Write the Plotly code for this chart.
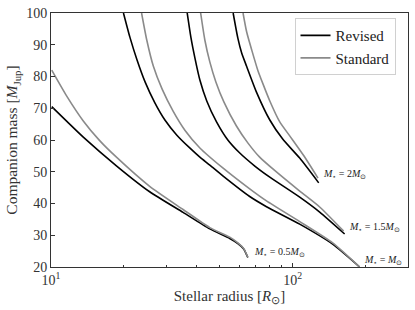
import math
import plotly.graph_objects as go

# ---- data (stellar radius in R_sun, companion mass in M_Jup) ----
r_05_rev = [10.07, 13.6, 18.7, 25.6, 35.2, 45.4, 54.9, 59.3, 62.7, 65.2]
m_05_rev = [70.5, 60.9, 51.8, 43.7, 37.2, 32.0, 29.0, 27.4, 25.7, 23.0]
r_05_std = [10.07, 11.6, 13.6, 15.9, 18.7, 25.6, 35.2, 45.4, 54.9, 59.3, 62.7, 65.2]
m_05_std = [82.0, 73.9, 66.0, 59.8, 54.5, 45.4, 38.1, 32.4, 29.4, 27.6, 25.8, 23.1]

r_1_rev = [19.94, 21.2, 22.7, 24.5, 26.9, 29.6, 33.1, 37.5, 41.3, 45.4, 51.4, 66.4, 77.9, 106.9, 146.3, 189.2]
m_1_rev = [100, 92.4, 85.2, 78.3, 71.7, 66.3, 61.6, 57.5, 54.6, 52.1, 48.7, 42.2, 39.0, 33.5, 27.2, 20.0]
r_1_std = [23.7, 24.9, 26.5, 28.8, 32.0, 35.8, 41.3, 51.4, 66.4, 77.9, 106.9, 146.3, 189.2]
m_1_std = [100, 91.5, 83.3, 76.1, 69.1, 63.1, 57.5, 51.2, 44.6, 40.8, 34.3, 27.6, 20.0]

r_15_rev = [36.6, 37.9, 39.4, 41.3, 44.1, 48.4, 53.9, 60.4, 69.7, 80.4, 106.9, 129.3, 164.0]
m_15_rev = [100, 92.4, 85.8, 78.9, 72.3, 65.7, 60.0, 55.9, 51.8, 48.3, 42.0, 37.3, 30.4]
r_15_std = [41.6, 43.3, 45.4, 48.1, 51.9, 58.5, 65.2, 73.0, 84.2, 106.9, 129.3, 162.4]
m_15_std = [100, 91.5, 84.6, 78.3, 72.0, 64.4, 59.1, 54.6, 50.4, 43.9, 38.9, 31.3]

r_2_rev = [56.7, 59.3, 61.5, 64.4, 70.8, 80.4, 90.9, 106.9, 128.1]
m_2_rev = [100, 92.1, 87.4, 83.3, 75.1, 66.3, 60.3, 54.3, 46.5]
r_2_std = [62.3, 64.5, 67.7, 71.7, 75.4, 80.4, 88.4, 97.2, 111.0, 127.2]
m_2_std = [100, 94.0, 88.3, 82.0, 77.6, 72.3, 65.7, 61.3, 55.1, 48.0]

labels = ["<i>M</i><sub>⋆</sub> = 2<i>M</i><sub>⊙</sub>",
          "<i>M</i><sub>⋆</sub> = 1.5<i>M</i><sub>⊙</sub>",
          "<i>M</i><sub>⋆</sub> = 0.5<i>M</i><sub>⊙</sub>",
          "<i>M</i><sub>⋆</sub> = <i>M</i><sub>⊙</sub>"]
label_r = [131, 167, 68, 194]
label_m = [49.0, 32.6, 24.7, 22.2]

x_ticks = [10, 100]
x_ticktext = ["10<sup>1</sup>", "10<sup>2</sup>"]
x_minor = [20, 30, 40, 50, 60, 70, 80, 90, 200, 300]
y_ticks = [20, 30, 40, 50, 60, 70, 80, 90, 100]

FONT = "Liberation Serif"
BLACK = "#000000"
GRAY = "#8a8a8a"

fig = go.Figure()
pairs = [(r_05_rev, m_05_rev, r_05_std, m_05_std),
         (r_1_rev, m_1_rev, r_1_std, m_1_std),
         (r_15_rev, m_15_rev, r_15_std, m_15_std),
         (r_2_rev, m_2_rev, r_2_std, m_2_std)]
for i, (rr, mr, rs, ms) in enumerate(pairs):
    fig.add_trace(go.Scatter(x=rr, y=mr, mode="lines", name="Revised",
                             line=dict(color=BLACK, width=1.6, shape="spline", smoothing=0.6),
                             showlegend=(i == 0), legendrank=1))
    fig.add_trace(go.Scatter(x=rs, y=ms, mode="lines", name="Standard",
                             line=dict(color=GRAY, width=1.6, shape="spline", smoothing=0.6),
                             showlegend=(i == 0), legendrank=2))

for t, xr, ym in zip(labels, label_r, label_m):
    fig.add_annotation(x=math.log10(xr), y=ym, text=t, showarrow=False,
                       xanchor="left", yanchor="middle",
                       font=dict(family=FONT, size=10, color="#222"))

fig.update_layout(
    width=415, height=310,
    margin=dict(l=51, r=7, t=13, b=43, autoexpand=False),
    paper_bgcolor="white", plot_bgcolor="white",
    font=dict(family=FONT, size=14, color="#333"),
    showlegend=True,
    legend=dict(x=0.965, y=0.98, xanchor="right", yanchor="top",
                bordercolor="#d0d0d0", borderwidth=1, bgcolor="white",
                font=dict(family=FONT, size=15, color="#222"),
                itemwidth=30, tracegroupgap=0),
)
fig.update_xaxes(type="log", range=[1, 2.477], automargin=False,
                 tickvals=x_ticks, ticktext=x_ticktext,
                 ticks="inside", ticklen=4, tickcolor="#333",
                 minor=dict(tickvals=x_minor, ticks="inside", ticklen=2, tickcolor="#333"),
                 showline=True, linecolor="#333", linewidth=1, mirror=True,
                 showgrid=False, zeroline=False,
                 title=dict(text="Stellar radius [<i>R</i><sub>⊙</sub>]", standoff=2,
                            font=dict(family=FONT, size=15)),
                 tickfont=dict(family=FONT, size=14))
fig.update_yaxes(range=[20, 100], tickvals=y_ticks, automargin=False,
                 ticks="inside", ticklen=4, tickcolor="#333",
                 showline=True, linecolor="#333", linewidth=1, mirror=True,
                 showgrid=False, zeroline=False,
                 title=dict(text="Companion mass [<i>M</i><sub>Jup</sub>]", standoff=4,
                            font=dict(family=FONT, size=15.5)),
                 tickfont=dict(family=FONT, size=14))

fig.write_html("out.html", config={"displayModeBar": False},
               post_script="document.body.style.margin='0';document.body.style.padding='0';")
